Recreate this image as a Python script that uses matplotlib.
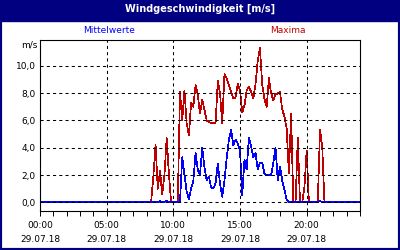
import numpy as np
import pandas as pd
import matplotlib
matplotlib.use("Agg")
import matplotlib.pyplot as plt
import matplotlib.dates as mdates
from matplotlib.patches import Rectangle
from matplotlib.ticker import FuncFormatter

# 10-minute values, 08:20 .. 21:30 on 29.07.18 (zero outside this window)
start = "2018-07-29 08:20"
maxima = [0, 1.9, 4.2, 1.0, 2.3, 0.6, 2.0, 4.7, 2.1, 0,
          0, 0, 0, 8.1, 6.0, 8.2,
          5.8, 4.9, 7.3, 7.0, 8.6, 7.9,
          6.5, 7.5, 6.8, 6.0, 5.9, 5.8,
          5.8, 5.8, 8.9, 8.0, 5.8, 9.4,
          9.1, 8.6, 8.1, 7.6, 7.7, 8.7,
          8.2, 6.6, 7.1, 8.2, 8.5, 8.1,
          7.6, 8.7, 10.4, 11.3, 8.6, 7.6,
          7.0, 9.1, 8.0, 7.5, 7.9, 8.0,
          8.1, 6.8, 6.3, 5.4, 2.1, 6.5,
          0, 0, 4.7, 0, 0, 1.1,
          3.8, 0, 0, 0, 0, 0,
          5.3, 4.1, 0, 0]
mittel = [0, 0, 0.05, 0, 0.1, 0, 0.05, 0.1, 0, 0,
          0, 0, 0, 0.1, 3.3, 2.0,
          0.8, 0.2, 1.0, 1.6, 3.6, 2.4,
          2.0, 4.0, 2.6, 1.6, 1.9, 1.1,
          1.0, 1.4, 2.8, 1.4, 0.4, 1.6,
          3.2, 4.6, 5.3, 4.2, 4.6, 4.3,
          3.8, 0.5, 3.1, 2.4, 4.7, 4.1,
          3.3, 3.6, 2.4, 2.9, 2.9, 2.1,
          2.0, 2.0, 2.0, 2.9, 4.0, 1.6,
          2.6, 1.6, 0.9, 0.2, 0.05, 0,
          0, 0, 0, 0, 0, 0,
          0, 0, 0, 0, 0, 0,
          0.1, 0, 0, 0]
day_start = pd.Timestamp("2018-07-29 00:00")
day_end = pd.Timestamp("2018-07-30 00:00")
tick_hours = [0, 5, 10, 15, 20]

times = pd.date_range(start, periods=len(maxima), freq="10min")
t = [day_start] + list(times) + [day_end]
red = [0] + maxima + [0]
blue = [0] + mittel + [0]

navy = "#000080"
fig = plt.figure(figsize=(4, 2.5), dpi=100)
fig.patch.set_facecolor("white")
fig.add_artist(Rectangle((0, 0.918), 1, 0.082, transform=fig.transFigure, color=navy))
fig.add_artist(Rectangle((0, 0), 1, 1, transform=fig.transFigure, fill=False,
                         edgecolor=navy, lw=3))
fig.text(0.5, 0.963, "Windgeschwindigkeit [m/s]", color="white", fontsize=7,
         fontweight="bold", ha="center", va="center")

ax = fig.add_axes([0.1, 0.157, 0.8, 0.683])
ax.plot(t, red, color="#c00000", lw=0.5, antialiased=False)
ax.plot(t, blue, color="#0000ff", lw=0.5, antialiased=False)

ax.set_xlim(day_start, day_end)
ax.set_ylim(-0.62, 11.9)
ax.set_yticks([0, 2, 4, 6, 8, 10])
ax.yaxis.set_major_formatter(FuncFormatter(lambda v, p: f"{v:.1f}".replace(".", ",")))
ax.set_xticks([day_start + pd.Timedelta(hours=h) for h in tick_hours])
ax.xaxis.set_minor_locator(mdates.HourLocator())
ax.xaxis.set_major_formatter(mdates.DateFormatter("%H:%M\n%d.%m.%y"))

ax.set_axisbelow(False)
ax.grid(True, which="major", color="black", ls=(0, (3, 3)), lw=0.75)
ax.tick_params(axis="y", length=0, pad=3, labelsize=6.5, colors="black")
ax.tick_params(axis="x", which="both", length=3.5, width=0.7, pad=4,
               labelsize=6.5, colors="black")
for lab in ax.get_xticklabels():
    lab.set_linespacing(1.75)
for s in ax.spines.values():
    s.set_linewidth(0.8)

fig.text(0.0925, 0.82, "m/s", fontsize=6.5, ha="right", va="center")
fig.text(0.2725, 0.877, "Mittelwerte", fontsize=6.5, color="#0000ff", ha="center", va="center")
fig.text(0.72, 0.877, "Maxima", fontsize=6.5, color="#c00000", ha="center", va="center")

fig.savefig("out.png", dpi=100)
